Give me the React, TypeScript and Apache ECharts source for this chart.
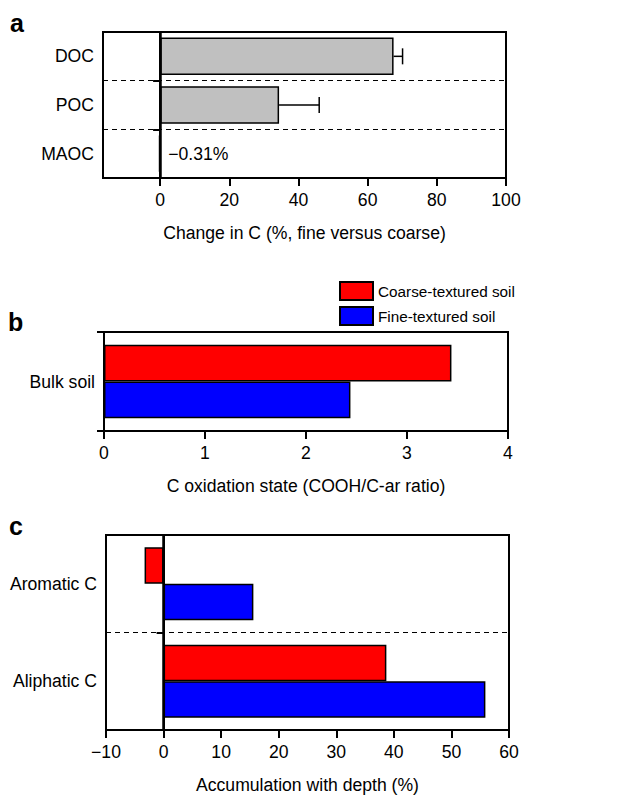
import React, { useEffect, useRef } from "react";
import * as echarts from "echarts";

// Panel a
const catsA = ["DOC", "POC", "MAOC"];
const valsA = [67.5, 34.4, -0.31];
const errsA = [2.6, 11.6, 0];
const ticksA = [0, 20, 40, 60, 80, 100];

// Panel b
const catsB = ["Bulk soil"];
const coarseB = [3.44];
const fineB = [2.44];

// Panel c
const catsC = ["Aromatic C", "Aliphatic C"];
const coarseC = [-3.3, 38.7];
const fineC = [15.6, 55.9];

const seriesNames = ["Coarse-textured soil", "Fine-textured soil"];

const FONT = '"Liberation Sans", Arial, Helvetica, sans-serif';
const FS = 17.6;
const RED = "#ff0000";
const BLUE = "#0000ff";

const minus = (v: number) => String(v).replace("-", "\u2212");

export default function App() {
  const ref = useRef<HTMLDivElement>(null);
  useEffect(() => {
    document.body.style.margin = "0";
    const chart = echarts.init(ref.current!, null, { renderer: "svg" });
    const txt = { fontFamily: FONT, fontSize: FS, color: "#000" };
    const grid = (left: number, right: number, top: number, height: number) => ({
      left, right, top, height, show: true, borderColor: "#000", borderWidth: 2, z: 3,
      backgroundColor: "transparent", containLabel: false, outerBoundsMode: "none",
    });
    const yCat = (gi: number, data: string[]) => ({
      type: "category", gridIndex: gi, data, inverse: true,
      axisLine: { show: true, lineStyle: { color: "#000", width: 2 } },
      axisTick: { show: true, length: 7, lineStyle: { color: "#000", width: 2 } },
      axisLabel: { ...txt, margin: 9 },
      splitLine: { show: true, lineStyle: { color: "#000", width: 1, type: [5, 4] } },
    });
    const xVal = (gi: number, min: number, max: number, name: string, extra: any) => ({
      type: "value", gridIndex: gi, min, max, name, nameLocation: "middle", nameGap: 46,
      nameTextStyle: { ...txt },
      axisLine: { show: true, onZero: false, lineStyle: { color: "#000", width: 2 } },
      axisTick: { show: true, length: 8, lineStyle: { color: "#000", width: 2 } },
      axisLabel: { ...txt, margin: 13, formatter: minus },
      splitLine: { show: false },
      ...extra,
    });
    const zeroLine = {
      symbol: "none", silent: true, label: { show: false },
      lineStyle: { color: "#000", width: 2.5, type: "solid" },
      data: [{ xAxis: 0 }],
    };
    const option: any = {
      animation: false,
      textStyle: { fontFamily: FONT },
      grid: [grid(103, 124, 32, 146), grid(104, 122, 332, 99), grid(106, 121, 535, 195)],
      legend: {
        orient: "vertical", left: 334, top: 276, itemWidth: 33, itemHeight: 18, itemGap: 5,
        icon: "rect", data: seriesNames, textStyle: { ...txt, fontSize: 15.3 }, selectedMode: false,
      },
      graphic: [
        { type: "text", left: 10, top: 10, style: { text: "a", font: `bold 25px ${FONT}`, fill: "#000" } },
        { type: "text", left: 8, top: 309, style: { text: "b", font: `bold 25px ${FONT}`, fill: "#000" } },
        { type: "text", left: 9, top: 513, style: { text: "c", font: `bold 25px ${FONT}`, fill: "#000" } },
      ],
      xAxis: [
        xVal(0, -16.5, 100, "Change in C (%, fine versus coarse)", {
          axisLabel: { ...txt, margin: 13, customValues: ticksA, formatter: minus },
          axisTick: { show: true, length: 8, customValues: ticksA, lineStyle: { color: "#000", width: 2 } },
        }),
        xVal(1, 0, 4, "C oxidation state (COOH/C-ar ratio)", { interval: 1 }),
        xVal(2, -10, 60, "Accumulation with depth (%)", { interval: 10 }),
      ],
      yAxis: [yCat(0, catsA), yCat(1, catsB), yCat(2, catsC)],
      series: [
        {
          type: "bar", xAxisIndex: 0, yAxisIndex: 0, barCategoryGap: "23%",
          itemStyle: { color: "#c0c0c0", borderColor: "#000", borderWidth: 1.5 },
          data: valsA.map((v) => v < 0 ? {
            value: v,
            label: { show: true, position: "right", distance: 8, ...txt, formatter: () => `${minus(v)}%` },
          } : v),
          markLine: zeroLine,
        },
        {
          type: "custom", xAxisIndex: 0, yAxisIndex: 0, silent: true,
          encode: { x: 0, y: 2 },
          data: valsA.map((v, i) => [v, errsA[i], i]).filter((d) => d[1] > 0),
          renderItem: (params: any, api: any) => {
            const v = api.value(0), e = api.value(1), idx = api.value(2);
            const s = api.coord([v, idx]);
            const en = api.coord([v + e, idx]);
            const st = { stroke: "#000", lineWidth: 1.5 };
            return {
              type: "group",
              children: [
                { type: "line", shape: { x1: s[0], y1: s[1], x2: en[0], y2: en[1] }, style: st },
                { type: "line", shape: { x1: en[0], y1: en[1] - 8, x2: en[0], y2: en[1] + 8 }, style: st },
              ],
            };
          },
        },
        {
          name: seriesNames[0], type: "bar", xAxisIndex: 1, yAxisIndex: 1, barGap: 0, barCategoryGap: "26%",
          itemStyle: { color: RED, borderColor: "#000", borderWidth: 1.5 }, data: coarseB,
        },
        {
          name: seriesNames[1], type: "bar", xAxisIndex: 1, yAxisIndex: 1, barGap: 0, barCategoryGap: "26%",
          itemStyle: { color: BLUE, borderColor: "#000", borderWidth: 1.5 }, data: fineB,
        },
        {
          name: seriesNames[0], type: "bar", xAxisIndex: 2, yAxisIndex: 2, barGap: 0, barCategoryGap: "25%",
          itemStyle: { color: RED, borderColor: "#000", borderWidth: 1.5 }, data: coarseC,
          markLine: zeroLine,
        },
        {
          name: seriesNames[1], type: "bar", xAxisIndex: 2, yAxisIndex: 2, barGap: 0, barCategoryGap: "25%",
          itemStyle: { color: BLUE, borderColor: "#000", borderWidth: 1.5 }, data: fineC,
        },
      ],
    };
    chart.setOption(option);
    return () => chart.dispose();
  }, []);
  return <div ref={ref} style={{ position: "absolute", left: 0, top: 0, width: 630, height: 796 }} />;
}
